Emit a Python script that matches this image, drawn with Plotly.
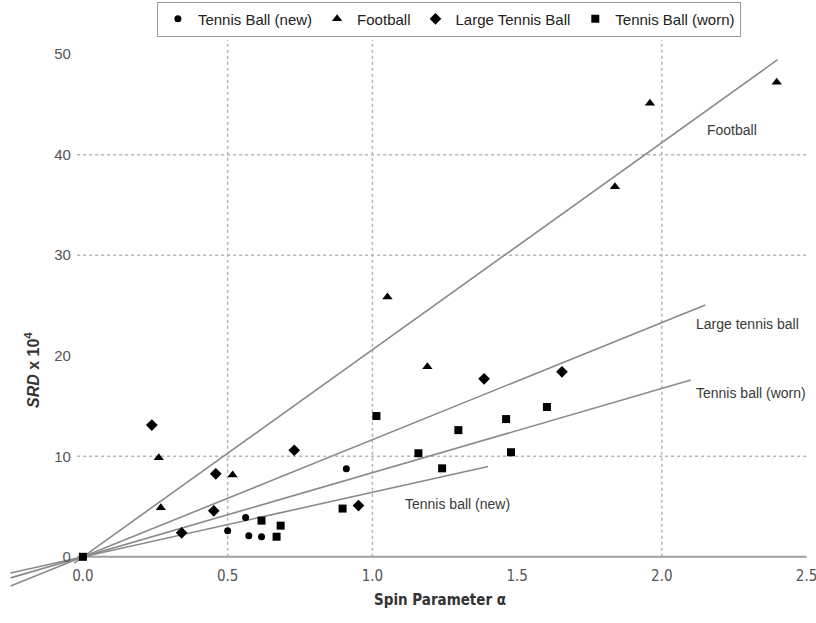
import plotly.graph_objects as go

# Measured points: spin parameter (alpha) vs SRD x 10^4
new_x = [0.50, 0.562, 0.573, 0.617, 0.91]
new_y = [2.6, 3.9, 2.1, 2.0, 8.75]

football_x = [0.262, 0.269, 0.517, 1.052, 1.19, 1.838, 1.959, 2.397]
football_y = [9.85, 4.87, 8.15, 25.85, 18.9, 36.8, 45.1, 47.2]

large_x = [0.238, 0.341, 0.452, 0.459, 0.73, 0.952, 1.386, 1.655]
large_y = [13.1, 2.39, 4.57, 8.25, 10.6, 5.1, 17.7, 18.4]

worn_x = [0.0, 0.617, 0.669, 0.683, 0.897, 1.014, 1.159, 1.241, 1.297, 1.462, 1.479, 1.603]
worn_y = [0.0, 3.6, 2.0, 3.1, 4.8, 14.0, 10.3, 8.8, 12.6, 13.7, 10.4, 14.9]

# Fitted lines through the origin: slope, start and end of alpha
fit_names = ["Tennis ball (new)", "Football", "Large tennis ball", "Tennis ball (worn)"]
fit_slopes = [6.42, 20.6, 11.65, 8.37]
fit_start = [-0.25, -0.03, -0.25, -0.25]
fit_end = [1.40, 2.40, 2.15, 2.10]

x_ticks = [0.0, 0.5, 1.0, 1.5, 2.0, 2.5]
y_ticks = [0, 10, 20, 30, 40, 50]
x_grid = [0.5, 1.0, 2.0]
y_grid = [10, 30, 40]

XMIN, XMAX = -0.252, 2.505
YMIN, YMAX = -3.2, 51.4

FONT = "Liberation Sans, Arial, sans-serif"
NARROW = "Liberation Sans Narrow, DejaVu Sans Condensed, Liberation Sans, sans-serif"
LINE_GREY = "#8a8a8a"

fig = go.Figure()

for name, k, x0, x1 in zip(fit_names, fit_slopes, fit_start, fit_end):
    fig.add_trace(go.Scatter(
        x=[x0, x1], y=[k * x0, k * x1], mode="lines",
        line=dict(color=LINE_GREY, width=1.6),
        showlegend=False, hoverinfo="skip", name=name,
    ))

series = [
    ("Tennis Ball (new)", new_x, new_y, "circle", 7),
    ("Football", football_x, football_y, "triangle-up", 9),
    ("Large Tennis Ball", large_x, large_y, "diamond", 9),
    ("Tennis Ball (worn)", worn_x, worn_y, "square", 8),
]
for name, xs, ys, sym, size in series:
    fig.add_trace(go.Scatter(
        x=xs, y=ys, mode="markers", name=name,
        marker=dict(symbol=sym, size=size, color="black"),
    ))

# Dotted grid, drawn only at selected values
shapes = []
for gx in x_grid:
    shapes.append(dict(type="line", xref="x", yref="y", x0=gx, x1=gx, y0=0, y1=YMAX,
                       line=dict(color="#b5b5b5", width=1.5, dash="dot"), layer="below"))
for gy in y_grid:
    shapes.append(dict(type="line", xref="x", yref="y", x0=-0.02, x1=2.5, y0=gy, y1=gy,
                       line=dict(color="#b5b5b5", width=1.5, dash="dot"), layer="below"))
# Baseline at SRD = 0
shapes.append(dict(type="line", xref="x", yref="y", x0=-0.02, x1=2.5, y0=0, y1=0,
                   line=dict(color="#a0a0a0", width=2), layer="below"))

annotations = [
    dict(x=2.148, y=42.4, text="Football", xanchor="left"),
    dict(x=2.11, y=23.2, text="Large tennis ball", xanchor="left"),
    dict(x=2.11, y=16.3, text="Tennis ball (worn)", xanchor="left"),
    dict(x=1.105, y=5.3, text="Tennis ball (new)", xanchor="left"),
]
for a in annotations:
    a.update(xref="x", yref="y", showarrow=False, yanchor="middle",
             font=dict(family=FONT, size=14, color="#3a3a3a"))

# Axis titles
annotations.append(dict(
    xref="paper", yref="paper", x=(440 - 10) / 798, y=-(600 - 589) / 549,
    text="<b>Spin Parameter α</b>", showarrow=False,
    xanchor="center", yanchor="middle",
    font=dict(family=NARROW, size=15, color="#333"),
))
annotations.append(dict(
    xref="paper", yref="paper", x=(32 - 10) / 798, y=(589 - 370) / 549,
    text="<b><i>SRD</i> x 10<sup>4</sup></b>", showarrow=False, textangle=-90,
    xanchor="center", yanchor="middle",
    font=dict(family=FONT, size=16, color="#333"),
))

fig.update_layout(
    width=816, height=623,
    margin=dict(l=10, r=8, t=40, b=34, autoexpand=False),
    paper_bgcolor="white", plot_bgcolor="white",
    font=dict(family=FONT, color="#444"),
    shapes=shapes, annotations=annotations,
    legend=dict(
        orientation="h", x=0.55, xanchor="center", y=1.07, yanchor="top",
        bordercolor="#9a9a9a", borderwidth=1, bgcolor="white",
        font=dict(family=FONT, size=15, color="#222"),
        itemwidth=30, tracegroupgap=0,
    ),
    xaxis=dict(
        range=[XMIN, XMAX], anchor="free", automargin=False,
        position=(0 - YMIN) / (YMAX - YMIN),
        tickvals=x_ticks, ticktext=[f"{v:.1f}" for v in x_ticks],
        showgrid=False, zeroline=False, showline=False, ticks="",
        ticklabelstandoff=8, ticklabeloverflow="allow",
        tickfont=dict(family=NARROW, size=15, color="#555"),
    ),
    yaxis=dict(
        range=[YMIN, YMAX], anchor="free", automargin=False,
        position=(0 - XMIN) / (XMAX - XMIN),
        tickvals=y_ticks,
        showgrid=False, zeroline=False, showline=False, ticks="",
        ticklabelstandoff=12,
        tickfont=dict(family=FONT, size=15, color="#555"),
    ),
)

fig.write_html("out.html")
